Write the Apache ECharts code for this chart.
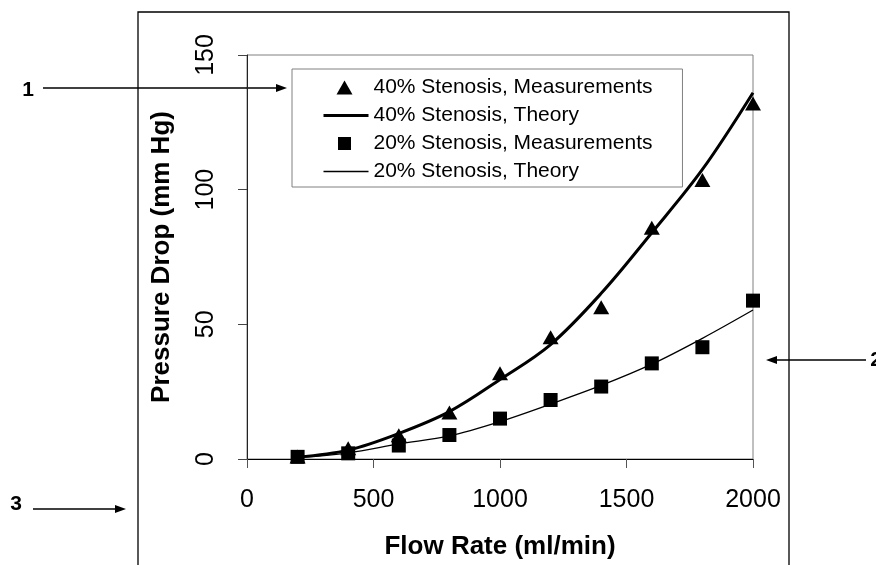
<!DOCTYPE html>
<html>
<head>
<meta charset="utf-8">
<script src="https://cdn.jsdelivr.net/npm/echarts@6/dist/echarts.min.js"></script>
<style>
html,body{margin:0;padding:0;background:#fff;}
#chart{width:876px;height:565px;}
</style>
</head>
<body>
<div id="chart"></div>
<script>
var flowRates = [200, 400, 600, 800, 1000, 1200, 1400, 1600, 1800, 2000];
var meas40 = [0.9, 4.0, 8.8, 17.3, 31.8, 45.2, 56.3, 85.9, 103.6, 132.0];
var theory40 = [0.7, 3.3, 9.5, 17.6, 29.5, 42.5, 61.5, 84.0, 107.5, 136.0];
var meas20 = [0.8, 2.1, 5.0, 8.9, 15.0, 21.9, 26.9, 35.5, 41.5, 58.8];
var theory20 = [0.5, 2.3, 5.6, 8.6, 13.9, 20.4, 27.3, 35.2, 44.8, 55.3];
var seriesNames = ['40% Stenosis, Measurements', '40% Stenosis, Theory', '20% Stenosis, Measurements', '20% Stenosis, Theory'];
var xTicks = [0, 500, 1000, 1500, 2000];
var yTicks = [0, 50, 100, 150];

function pairs(xs, ys) { return xs.map(function (x, i) { return [x, ys[i]]; }); }

var FONT = '"Liberation Sans", Arial, Helvetica, sans-serif';
var chart = echarts.init(document.getElementById('chart'), null, {renderer: 'canvas'});

function arrow(x1, y1, x2, y2) {
  var dir = x2 > x1 ? 1 : -1;
  return [
    {type: 'line', shape: {x1: x1, y1: y1, x2: x2 - dir * 8, y2: y2}, style: {stroke: '#000', lineWidth: 1.3}},
    {type: 'polygon', shape: {points: [[x2, y2], [x2 - dir * 11, y2 - 4], [x2 - dir * 11, y2 + 4]]}, style: {fill: '#000'}}
  ];
}

var graphics = [
  {type: 'rect', shape: {x: 138, y: 12, width: 651, height: 600}, style: {fill: 'none', stroke: '#000', lineWidth: 1.3}, z: -1},
  {type: 'text', x: 28, y: 90, style: {text: '1', font: 'bold 21px ' + FONT, fill: '#000', textAlign: 'center', textVerticalAlign: 'middle'}},
  {type: 'text', x: 876, y: 360, style: {text: '2', font: 'bold 21px ' + FONT, fill: '#000', textAlign: 'center', textVerticalAlign: 'middle'}},
  {type: 'text', x: 16, y: 504, style: {text: '3', font: 'bold 21px ' + FONT, fill: '#000', textAlign: 'center', textVerticalAlign: 'middle'}}
].concat(arrow(43, 88, 287, 88)).concat(arrow(866, 360, 766, 360)).concat(arrow(33, 509, 126, 509));

// legend icons padded to the full 45x14 icon box via move-to points
var legendTriangle = 'path://M0,0M45,14M13,14L21,0L29,14Z';
var legendSquare = 'path://M0,0M45,14M14.5,0.5L27.5,0.5L27.5,13.5L14.5,13.5Z';

var option = {
  animation: false,
  backgroundColor: '#fff',
  textStyle: {fontFamily: FONT},
  grid: {left: 247, top: 55, width: 506, height: 404, show: true, borderColor: '#808080', borderWidth: 1, backgroundColor: 'transparent'},
  legend: {
    orient: 'vertical',
    left: 292, top: 69,
    data: [
      {name: seriesNames[0], icon: legendTriangle},
      {name: seriesNames[1], itemStyle: {opacity: 0, borderWidth: 0}, lineStyle: {width: 3}},
      {name: seriesNames[2], icon: legendSquare},
      {name: seriesNames[3], itemStyle: {opacity: 0, borderWidth: 0}, lineStyle: {width: 1.3}}
    ],
    itemWidth: 45, itemHeight: 14, itemGap: 7,
    padding: [8, 30, 5, 30],
    borderColor: '#808080', borderWidth: 1,
    textStyle: {fontFamily: FONT, fontSize: 21, color: '#000', lineHeight: 21},
    selectedMode: false
  },
  xAxis: {
    type: 'value', min: 0, max: 2000, interval: 500,
    name: 'Flow Rate (ml/min)', nameLocation: 'middle', nameGap: 75,
    nameTextStyle: {fontFamily: FONT, fontSize: 26, fontWeight: 'bold', color: '#000'},
    axisLine: {show: true, onZero: false, lineStyle: {color: '#000', width: 1}},
    axisTick: {show: true, inside: false, length: 9, lineStyle: {color: '#555'}},
    axisLabel: {fontFamily: FONT, fontSize: 25, color: '#000', margin: 29,
      formatter: function (v) { return xTicks.indexOf(v) >= 0 ? String(v) : ''; }},
    splitLine: {show: false}
  },
  yAxis: {
    type: 'value', min: 0, max: 150, interval: 50,
    name: 'Pressure Drop (mm Hg)', nameLocation: 'middle', nameGap: 72,
    nameTextStyle: {fontFamily: FONT, fontSize: 26, fontWeight: 'bold', color: '#000'},
    axisLine: {show: true, onZero: false, lineStyle: {color: '#222', width: 1}},
    axisTick: {show: true, inside: false, length: 9, lineStyle: {color: '#444'}},
    axisLabel: {fontFamily: FONT, fontSize: 25, color: '#000', margin: 28, rotate: 90,
      formatter: function (v) { return yTicks.indexOf(v) >= 0 ? String(v) : ''; }},
    splitLine: {show: false}
  },
  series: [
    {name: seriesNames[0], type: 'scatter', data: pairs(flowRates, meas40), symbol: 'triangle', symbolSize: [16, 14],
      itemStyle: {color: '#000', opacity: 1}, z: 3},
    {name: seriesNames[1], type: 'line', data: pairs(flowRates, theory40), smooth: 0.35, symbol: 'none', showSymbol: false,
      lineStyle: {color: '#000', width: 3}, itemStyle: {color: '#000'}, z: 4},
    {name: seriesNames[2], type: 'scatter', data: pairs(flowRates, meas20), symbol: 'rect', symbolSize: 14,
      itemStyle: {color: '#000', opacity: 1}, z: 3},
    {name: seriesNames[3], type: 'line', data: pairs(flowRates, theory20), smooth: 0.35, symbol: 'none', showSymbol: false,
      lineStyle: {color: '#000', width: 1.3}, itemStyle: {color: '#000'}, z: 4}
  ],
  graphic: graphics
};
chart.setOption(option);
</script>
</body>
</html>
